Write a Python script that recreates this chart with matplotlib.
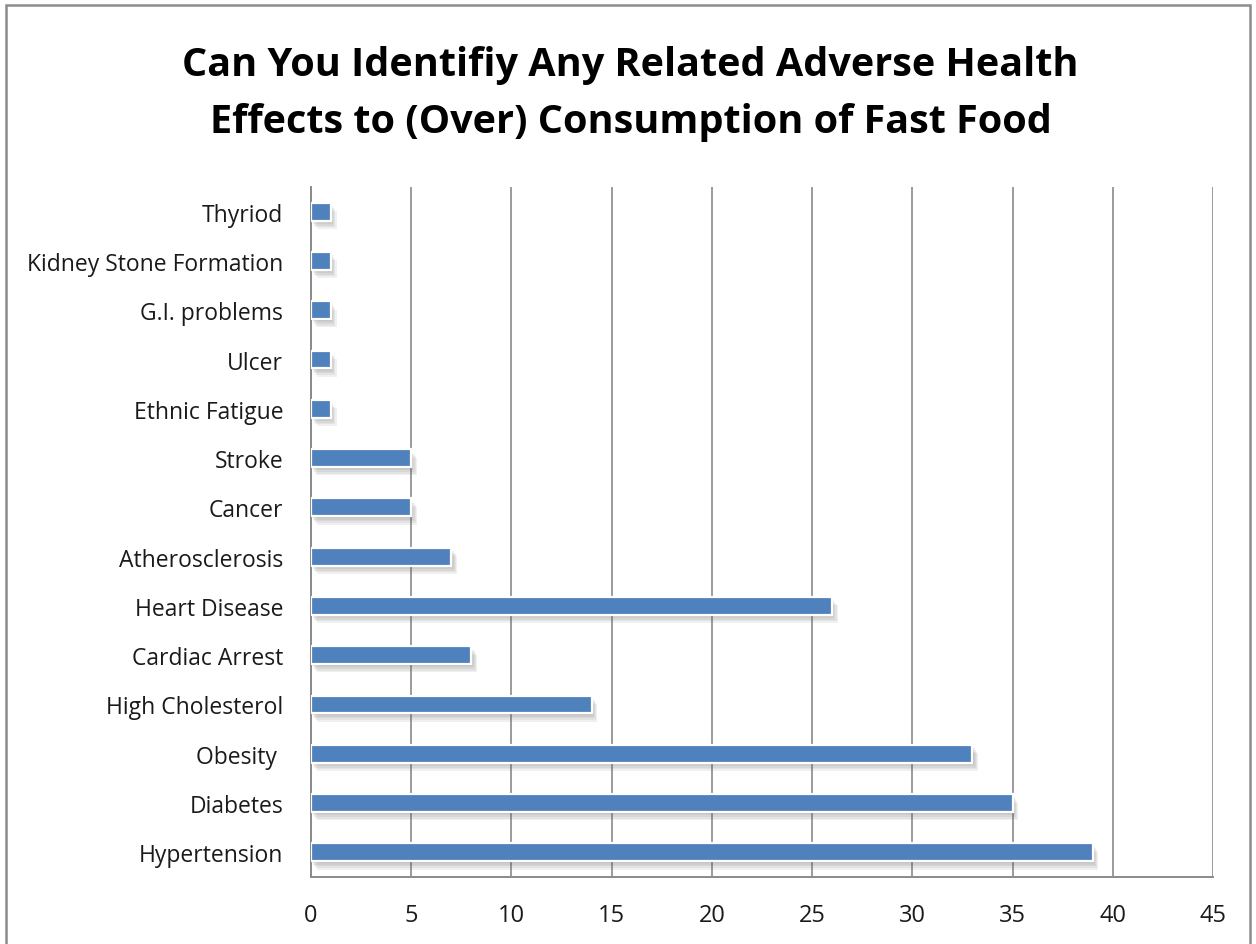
import matplotlib.pyplot as plt
import matplotlib.patheffects as pe
from matplotlib.patches import Rectangle

# Survey answers, listed top to bottom as they appear on the chart
effects = [
    "Thyriod", "Kidney Stone Formation", "G.I. problems", "Ulcer",
    "Ethnic Fatigue", "Stroke", "Cancer", "Atherosclerosis",
    "Heart Disease", "Cardiac Arrest", "High Cholesterol", "Obesity ",
    "Diabetes", "Hypertension",
]
counts = [1, 1, 1, 1, 1, 5, 5, 7, 26, 8, 14, 33, 35, 39]
x_ticks = list(range(0, 50, 5))

plt.rcParams["font.family"] = ["Open Sans", "DejaVu Sans"]

fig = plt.figure(figsize=(12.56, 9.45), dpi=100)
ax = fig.add_axes([311 / 1256, 1 - 878 / 945, (1213 - 311) / 1256, (878 - 188) / 945])

# outer frame of the chart area (bottom edge runs off the page)
fig.patches.append(Rectangle((6 / 1256, -0.05), (1250 - 6) / 1256, 1.05 - 6 / 945,
                             transform=fig.transFigure, fill=False,
                             edgecolor="#8c8c8c", linewidth=1.8))

pos = list(range(len(effects)))[::-1]
bars = ax.barh(pos, counts, height=0.36, color="#4f81bd", edgecolor="white",
               linewidth=1.6, zorder=3)
# soft drop shadow: a few stacked offsets with low alpha
shadow = [pe.SimplePatchShadow(offset=(0.8 * k, -1.2 * k), shadow_rgbFace="#606060",
                               alpha=0.09) for k in range(1, 6)]
for b in bars:
    b.set_path_effects(shadow + [pe.Normal()])

ax.set_xlim(0, 45)
ax.set_ylim(-0.5, len(effects) - 0.5)
ax.set_xticks(x_ticks)
ax.set_yticks(pos)
ax.set_yticklabels(effects)
ax.tick_params(axis="both", length=0, colors="#1a1a1a")
ax.tick_params(axis="x", pad=19, labelsize=17)
ax.tick_params(axis="y", pad=20, labelsize=16.5)
ax.grid(axis="x", color="#8a8a8a", linewidth=1.2, zorder=0)
ax.set_axisbelow(True)
for side in ["top", "right"]:
    ax.spines[side].set_visible(False)
for side in ["left", "bottom"]:
    ax.spines[side].set_color("#8a8a8a")
    ax.spines[side].set_linewidth(1.4)

fig.text(0.502, 1 - 94 / 945,
         "Can You Identifiy Any Related Adverse Health\nEffects to (Over) Consumption of Fast Food",
         ha="center", va="center", fontsize=28.5, fontweight="bold",
         linespacing=1.58, color="black")

fig.savefig("out.png", dpi=100, facecolor="white")
